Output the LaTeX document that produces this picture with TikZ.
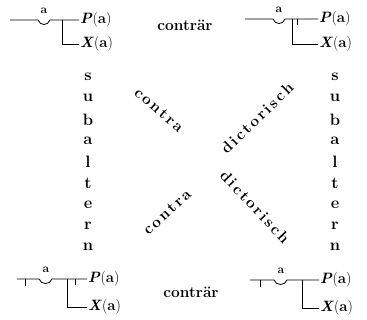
\documentclass[tikz,border=0pt]{standalone}
\newcommand\fa{\textbf{a}}
\newcommand\Pa{\textbf{\textit{P}}(\fa)}
\newcommand\Xa{\textbf{\textit{X}}(\fa)}
\newcommand\lsp{\kern2.2pt}
\tikzset{
  lbl/.style={inner sep=1pt, font=\fontsize{15}{17}\selectfont},
  gen/.style={inner sep=0pt, font=\fontsize{12}{14}\selectfont},
  word/.style={inner sep=0pt, font=\fontsize{15.5}{17}\selectfont\bfseries},
  letter/.style={inner sep=0pt, font=\fontsize{16.5}{18}\selectfont\bfseries},
  stroke/.style={line width=0.8pt}
}
\begin{document}
\begin{tikzpicture}[x=1pt,y=-1pt]
\useasboundingbox (0,0) rectangle (367,320);
% top-left: all X are P
\coordinate (a1) at (10,20);
\coordinate (j1) at (62,20);
\node[lbl,anchor=west] (p1) at (79,20) {\Pa};
\node[lbl,anchor=west] (x1) at (79,44) {\Xa};
\node[gen] (g1) at (44,11) {\fa};
\draw[stroke] (a1) -- (38,20) .. controls (40,26) and (48,26) .. (50,20) -- (p1.west);
\draw[stroke] (j1) |- (x1.west);
% top-right: no X is P
\coordinate (a2) at (245,19);
\coordinate (j2) at (292,19);
\coordinate (n2) at (297,19);
\node[lbl,anchor=west] (p2) at (318,19) {\Pa};
\node[lbl,anchor=west] (x2) at (318,44) {\Xa};
\node[gen] (g2) at (279,10) {\fa};
\draw[stroke] (a2) -- (273,19) .. controls (275,25) and (283,25) .. (285,19) -- (p2.west);
\draw[stroke] (j2) |- (x2.west);
\draw[stroke] (n2) -- ++(0,6);
% bottom-left: some X are P
\coordinate (a3) at (17,279);
\coordinate (m3) at (25,279);
\coordinate (j3) at (67,279);
\coordinate (n3) at (75,279);
\node[lbl,anchor=west] (p3) at (87,279) {\Pa};
\node[lbl,anchor=west] (x3) at (87,307) {\Xa};
\node[gen] (g3) at (46,270) {\fa};
\draw[stroke] (a3) -- (39,279) .. controls (41,285) and (50,285) .. (52,279) -- (p3.west);
\draw[stroke] (m3) -- ++(0,7);
\draw[stroke] (j3) |- (x3.west);
\draw[stroke] (n3) -- ++(0,6);
% bottom-right: some X are not P
\coordinate (a4) at (250,280);
\coordinate (m4) at (260,280);
\coordinate (j4) at (302,280);
\node[lbl,anchor=west] (p4) at (319,280) {\Pa};
\node[lbl,anchor=west] (x4) at (319,308) {\Xa};
\node[gen] (g4) at (281,271) {\fa};
\draw[stroke] (a4) -- (274,280) .. controls (276,286) and (285,286) .. (287,280) -- (p4.west);
\draw[stroke] (m4) -- ++(0,7);
\draw[stroke] (j4) |- (x4.west);
% labels
\node[word] (ct) at (185,25) {contr\"ar};
\node[word] (cb) at (191,292) {contr\"ar};
\foreach \ch [count=\i] in {s,u,b,a,l,t,e,r,n} {
  \node[letter] (sl\i) at (88,{77+21.25*(\i-1)}) {\ch};
  \node[letter] (sr\i) at (335,{77+21.25*(\i-1)}) {\ch};
}
\node[word,rotate=-41] (c1) at (159,110) {c\lsp o\lsp n\lsp t\lsp r\lsp a};
\node[word,rotate=44] (d1) at (257,118) {d\lsp i\lsp c\lsp t\lsp o\lsp r\lsp i\lsp s\lsp c\lsp h};
\node[word,rotate=43] (c2) at (167,212) {c\lsp o\lsp n\lsp t\lsp r\lsp a};
\node[word,rotate=-47] (d2) at (255,207) {d\lsp i\lsp c\lsp t\lsp o\lsp r\lsp i\lsp s\lsp c\lsp h};
\end{tikzpicture}
\end{document}
